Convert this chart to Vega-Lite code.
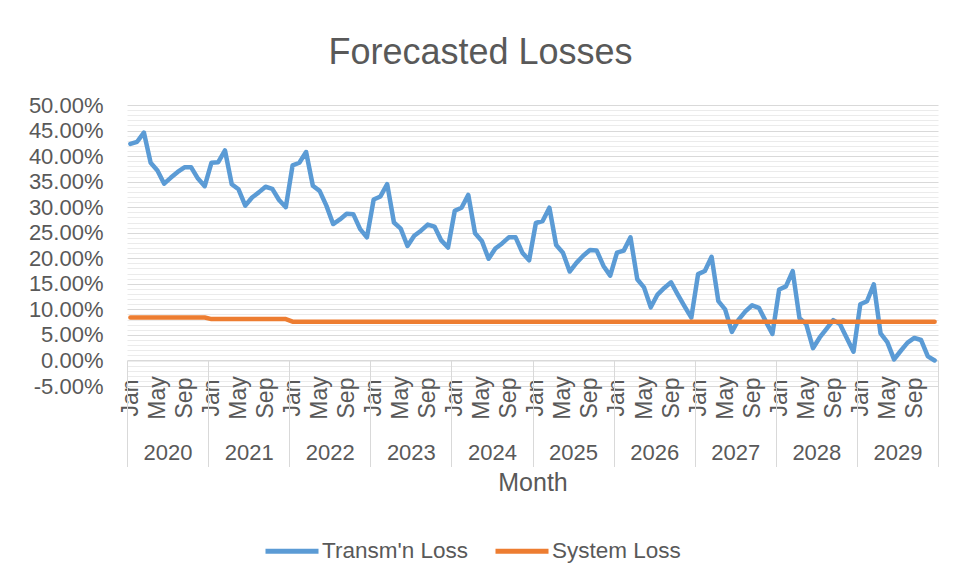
{
  "$schema": "https://vega.github.io/schema/vega-lite/v6.json",
  "autosize": {"type": "none"},
  "width": 811,
  "height": 281,
  "padding": {"left": 127, "top": 105, "right": 17, "bottom": 193},
  "background": "white",
  "title": {"text": "Forecasted Losses", "fontSize": 36, "font": "Liberation Sans", "fontWeight": "normal", "color": "#595959", "anchor": "middle", "dx": -52, "offset": 22},
  "config": {"view": {"stroke": null}, "font": "Liberation Sans"},
  "datasets": {
    "monthly": [
      {"m":"2020-01","t":42.4,"s":8.4},{"m":"2020-02","t":42.8,"s":8.4},{"m":"2020-03","t":44.6,"s":8.4},{"m":"2020-04","t":38.7,"s":8.4},{"m":"2020-05","t":37.2,"s":8.4},{"m":"2020-06","t":34.6,"s":8.4},{"m":"2020-07","t":35.8,"s":8.4},{"m":"2020-08","t":36.9,"s":8.4},{"m":"2020-09","t":37.8,"s":8.4},{"m":"2020-10","t":37.8,"s":8.4},{"m":"2020-11","t":35.6,"s":8.4},{"m":"2020-12","t":34.1,"s":8.4},
      {"m":"2021-01","t":38.7,"s":8.1},{"m":"2021-02","t":38.8,"s":8.1},{"m":"2021-03","t":41.1,"s":8.1},{"m":"2021-04","t":34.5,"s":8.1},{"m":"2021-05","t":33.5,"s":8.1},{"m":"2021-06","t":30.3,"s":8.1},{"m":"2021-07","t":31.9,"s":8.1},{"m":"2021-08","t":32.9,"s":8.1},{"m":"2021-09","t":34.0,"s":8.1},{"m":"2021-10","t":33.6,"s":8.1},{"m":"2021-11","t":31.4,"s":8.1},{"m":"2021-12","t":30.0,"s":8.1},
      {"m":"2022-01","t":38.2,"s":7.6},{"m":"2022-02","t":38.7,"s":7.6},{"m":"2022-03","t":40.8,"s":7.6},{"m":"2022-04","t":34.2,"s":7.6},{"m":"2022-05","t":33.2,"s":7.6},{"m":"2022-06","t":30.3,"s":7.6},{"m":"2022-07","t":26.7,"s":7.6},{"m":"2022-08","t":27.6,"s":7.6},{"m":"2022-09","t":28.7,"s":7.6},{"m":"2022-10","t":28.6,"s":7.6},{"m":"2022-11","t":25.7,"s":7.6},{"m":"2022-12","t":24.1,"s":7.6},
      {"m":"2023-01","t":31.5,"s":7.6},{"m":"2023-02","t":32.1,"s":7.6},{"m":"2023-03","t":34.5,"s":7.6},{"m":"2023-04","t":27.0,"s":7.6},{"m":"2023-05","t":25.8,"s":7.6},{"m":"2023-06","t":22.4,"s":7.6},{"m":"2023-07","t":24.4,"s":7.6},{"m":"2023-08","t":25.4,"s":7.6},{"m":"2023-09","t":26.6,"s":7.6},{"m":"2023-10","t":26.2,"s":7.6},{"m":"2023-11","t":23.5,"s":7.6},{"m":"2023-12","t":22.1,"s":7.6},
      {"m":"2024-01","t":29.3,"s":7.6},{"m":"2024-02","t":29.9,"s":7.6},{"m":"2024-03","t":32.4,"s":7.6},{"m":"2024-04","t":24.9,"s":7.6},{"m":"2024-05","t":23.4,"s":7.6},{"m":"2024-06","t":19.9,"s":7.6},{"m":"2024-07","t":21.9,"s":7.6},{"m":"2024-08","t":22.9,"s":7.6},{"m":"2024-09","t":24.1,"s":7.6},{"m":"2024-10","t":24.1,"s":7.6},{"m":"2024-11","t":21.1,"s":7.6},{"m":"2024-12","t":19.6,"s":7.6},
      {"m":"2025-01","t":26.9,"s":7.6},{"m":"2025-02","t":27.3,"s":7.6},{"m":"2025-03","t":29.9,"s":7.6},{"m":"2025-04","t":22.6,"s":7.6},{"m":"2025-05","t":21.1,"s":7.6},{"m":"2025-06","t":17.4,"s":7.6},{"m":"2025-07","t":19.1,"s":7.6},{"m":"2025-08","t":20.5,"s":7.6},{"m":"2025-09","t":21.6,"s":7.6},{"m":"2025-10","t":21.5,"s":7.6},{"m":"2025-11","t":18.5,"s":7.6},{"m":"2025-12","t":16.6,"s":7.6},
      {"m":"2026-01","t":21.1,"s":7.6},{"m":"2026-02","t":21.5,"s":7.6},{"m":"2026-03","t":24.1,"s":7.6},{"m":"2026-04","t":15.9,"s":7.6},{"m":"2026-05","t":14.3,"s":7.6},{"m":"2026-06","t":10.4,"s":7.6},{"m":"2026-07","t":12.9,"s":7.6},{"m":"2026-08","t":14.2,"s":7.6},{"m":"2026-09","t":15.3,"s":7.6},{"m":"2026-10","t":12.9,"s":7.6},{"m":"2026-11","t":10.6,"s":7.6},{"m":"2026-12","t":8.4,"s":7.6},
      {"m":"2027-01","t":16.9,"s":7.6},{"m":"2027-02","t":17.5,"s":7.6},{"m":"2027-03","t":20.3,"s":7.6},{"m":"2027-04","t":11.6,"s":7.6},{"m":"2027-05","t":10.0,"s":7.6},{"m":"2027-06","t":5.6,"s":7.6},{"m":"2027-07","t":8.0,"s":7.6},{"m":"2027-08","t":9.6,"s":7.6},{"m":"2027-09","t":10.8,"s":7.6},{"m":"2027-10","t":10.3,"s":7.6},{"m":"2027-11","t":7.7,"s":7.6},{"m":"2027-12","t":5.2,"s":7.6},
      {"m":"2028-01","t":13.9,"s":7.6},{"m":"2028-02","t":14.5,"s":7.6},{"m":"2028-03","t":17.5,"s":7.6},{"m":"2028-04","t":8.3,"s":7.6},{"m":"2028-05","t":7.1,"s":7.6},{"m":"2028-06","t":2.4,"s":7.6},{"m":"2028-07","t":4.5,"s":7.6},{"m":"2028-08","t":6.2,"s":7.6},{"m":"2028-09","t":7.9,"s":7.6},{"m":"2028-10","t":7.1,"s":7.6},{"m":"2028-11","t":4.4,"s":7.6},{"m":"2028-12","t":1.7,"s":7.6},
      {"m":"2029-01","t":11.0,"s":7.6},{"m":"2029-02","t":11.6,"s":7.6},{"m":"2029-03","t":14.9,"s":7.6},{"m":"2029-04","t":5.3,"s":7.6},{"m":"2029-05","t":3.6,"s":7.6},{"m":"2029-06","t":0.2,"s":7.6},{"m":"2029-07","t":1.9,"s":7.6},{"m":"2029-08","t":3.5,"s":7.6},{"m":"2029-09","t":4.4,"s":7.6},{"m":"2029-10","t":4.0,"s":7.6},{"m":"2029-11","t":0.8,"s":7.6},{"m":"2029-12","t":0.0,"s":7.6}
    ],
    "years": [
      {"y":"2020"},{"y":"2021"},{"y":"2022"},{"y":"2023"},{"y":"2024"},{"y":"2025"},{"y":"2026"},{"y":"2027"},{"y":"2028"},{"y":"2029"}
    ]
  },
  "layer": [
    {
      "data": {"name": "monthly"},
      "encoding": {
        "x": {
          "field": "m", "type": "ordinal",
          "scale": {"type": "point", "padding": 0.5},
          "axis": {
            "orient": "bottom", "offset": -25.5, "title": null,
            "domain": true, "domainColor": "#d9d9d9", "domainWidth": 1,
            "ticks": false, "tickSize": 0, "grid": false,
            "labelAngle": -90, "labelAlign": "center", "labelBaseline": "middle", "labelPadding": 37,
            "labelFontSize": 23, "labelColor": "#595959", "labelFont": "Liberation Sans",
            "labelOverlap": false, "labelBound": false,
            "labelExpr": "substring(datum.value,5,7)=='01' ? 'Jan' : substring(datum.value,5,7)=='05' ? 'May' : substring(datum.value,5,7)=='09' ? 'Sep' : ''"
          }
        }
      },
      "layer": [
        {
          "mark": {"type": "line", "strokeWidth": 4.5, "strokeCap": "round", "strokeJoin": "round"},
          "encoding": {
            "y": {
              "field": "t", "type": "quantitative",
              "scale": {"domain": [-5, 50], "nice": false, "zero": false},
              "axis": {
                "title": null, "domain": false, "ticks": false, "tickSize": 0, "tickCount": 55,
                "grid": true, "gridWidth": 1,
                "gridColor": {"condition": {"test": "datum.value % 5 === 0", "value": "#d9d9d9"}, "value": "#ebebeb"},
                "labelExpr": "datum.value % 5 === 0 ? (datum.value < 0 ? '-' : '') + format(abs(datum.value), '.2f') + '%' : ''",
                "labelFontSize": 22, "labelColor": "#595959", "labelFont": "Liberation Sans", "labelPadding": 24,
                "labelOverlap": false, "labelBound": false
              }
            },
            "color": {
              "datum": "Transm'n Loss", "type": "nominal",
              "scale": {"domain": ["Transm'n Loss", "System Loss"], "range": ["#5b9bd5", "#ed7d31"]},
              "legend": {
                "orient": "none", "legendX": 136, "legendY": 417, "direction": "horizontal", "title": null,
                "symbolType": "stroke", "symbolSize": 2809, "symbolStrokeWidth": 5,
                "labelFontSize": 22.5, "labelColor": "#595959", "labelFont": "Liberation Sans",
                "labelOffset": 1, "columnPadding": 16, "labelLimit": 300
              }
            }
          }
        },
        {
          "mark": {"type": "line", "strokeWidth": 4.5, "strokeCap": "round", "strokeJoin": "round"},
          "encoding": {
            "y": {"field": "s", "type": "quantitative"},
            "color": {"datum": "System Loss", "type": "nominal"}
          }
        }
      ]
    },
    {
      "data": {"name": "years"},
      "mark": {"type": "rule", "opacity": 0},
      "encoding": {
        "x": {
          "field": "y", "type": "ordinal",
          "scale": {"type": "band", "paddingInner": 0, "paddingOuter": 0},
          "axis": {
            "orient": "bottom", "offset": -25.5, "domain": false, "grid": false,
            "ticks": true, "tickBand": "extent", "tickSize": 106, "tickColor": "#d9d9d9", "tickWidth": 1,
            "labelAngle": 0, "labelBaseline": "middle", "labelPadding": -14,
            "labelFontSize": 22, "labelColor": "#595959", "labelFont": "Liberation Sans",
            "title": "Month", "titleFontSize": 25, "titleColor": "#595959", "titleFont": "Liberation Sans",
            "titleFontWeight": "normal", "titlePadding": 3
          }
        }
      }
    }
  ],
  "resolve": {"scale": {"x": "independent"}}
}
